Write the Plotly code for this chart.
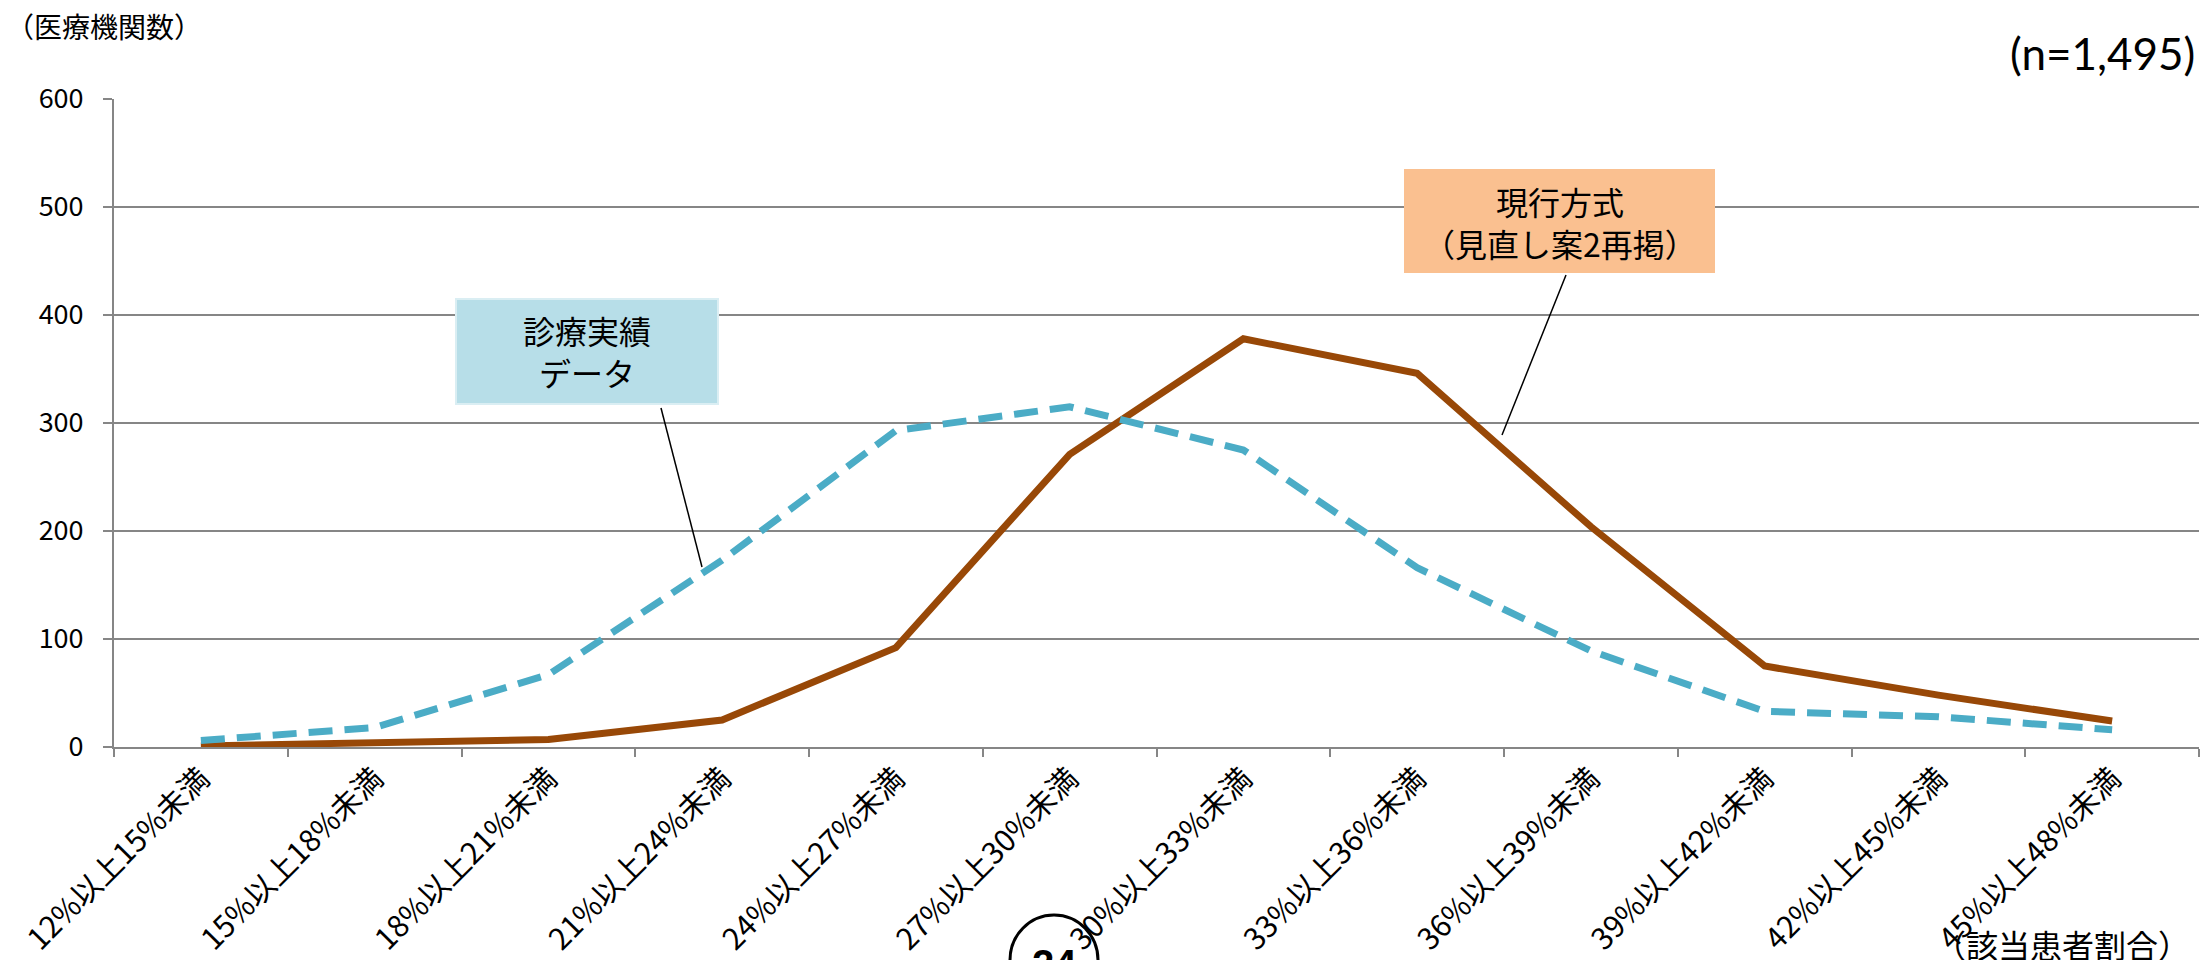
import plotly.graph_objects as go

# --- data -------------------------------------------------------------
categories = [
    "12%以上15%未満", "15%以上18%未満", "18%以上21%未満", "21%以上24%未満",
    "24%以上27%未満", "27%以上30%未満", "30%以上33%未満", "33%以上36%未満",
    "36%以上39%未満", "39%以上42%未満", "42%以上45%未満", "45%以上48%未満",
]
current_method = [1, 4, 7, 25, 92, 271, 378, 346, 204, 75, 48, 24]   # 現行方式
claims_data = [6, 18, 67, 173, 293, 315, 275, 166, 89, 33, 28, 16]   # 診療実績データ
y_ticks = [0, 100, 200, 300, 400, 500, 600]

# --- page geometry ----------------------------------------------------
W, H = 2201, 960
L, R, T, B = 114, 2, 99, 213
PW, PH = W - L - R, H - T - B

def px(x):
    return (x - L) / PW

def py(y):
    return (H - B - y) / PH

JP = "Noto Sans CJK JP"
GRID = "#868686"
BROWN = "#984807"
AQUA = "#4BACC6"

fig = go.Figure()
fig.add_trace(go.Scatter(
    x=categories, y=current_method, mode="lines", name="現行方式",
    line=dict(color=BROWN, width=7), showlegend=False,
))
fig.add_trace(go.Scatter(
    x=categories, y=claims_data, mode="lines", name="診療実績データ",
    line=dict(color=AQUA, width=7, dash="24px,12px"), showlegend=False,
))

shapes = [
    # callout boxes
    dict(type="rect", xref="paper", yref="paper",
         x0=px(456), x1=px(718), y0=py(404), y1=py(299),
         fillcolor="#B7DEE8", line=dict(color="#DAEEF3", width=2), layer="above"),
    dict(type="rect", xref="paper", yref="paper",
         x0=px(1404), x1=px(1715), y0=py(273), y1=py(169),
         fillcolor="#FAC090", line=dict(width=0), layer="above"),
    # leader lines
    dict(type="line", xref="paper", yref="paper",
         x0=px(661), y0=py(408), x1=px(702), y1=py(567),
         line=dict(color="black", width=1.5)),
    dict(type="line", xref="paper", yref="paper",
         x0=px(1566), y0=py(275), x1=px(1502), y1=py(435),
         line=dict(color="black", width=1.5)),
    # page number circle
    dict(type="circle", xref="paper", yref="paper",
         x0=px(1010), x1=px(1098), y0=py(1005), y1=py(915),
         line=dict(color="black", width=3)),
]

annotations = [
    dict(xref="paper", yref="paper", x=px(587), y=py(351),
         text="診療実績<br>データ", showarrow=False,
         font=dict(family=JP, size=32, color="black"),
         xanchor="center", yanchor="middle", align="center"),
    dict(xref="paper", yref="paper", x=px(1560), y=py(222),
         text="現行方式<br>（見直し案2再掲）", showarrow=False,
         font=dict(family=JP, size=32, color="black"),
         xanchor="center", yanchor="middle", align="center"),
    dict(xref="paper", yref="paper", x=px(4), y=py(26),
         text="（医療機関数）", showarrow=False,
         font=dict(family=JP, size=28, color="black"),
         xanchor="left", yanchor="middle"),
    dict(xref="paper", yref="paper", x=px(2197), y=py(53),
         text="(n=1,495)", showarrow=False,
         font=dict(family="Lato", size=44, color="black"),
         xanchor="right", yanchor="middle"),
    dict(xref="paper", yref="paper", x=px(2192), y=py(944),
         text="（該当患者割合）", showarrow=False,
         font=dict(family=JP, size=32, color="black"),
         xanchor="right", yanchor="middle"),
    dict(xref="paper", yref="paper", x=px(1054), y=py(964),
         text="<b>24</b>", showarrow=False,
         font=dict(family="Liberation Sans", size=40, color="black"),
         xanchor="center", yanchor="middle"),
]

fig.update_layout(
    width=W, height=H,
    margin=dict(l=L, r=R, t=T, b=B, pad=0),
    paper_bgcolor="white", plot_bgcolor="white",
    shapes=shapes, annotations=annotations,
    xaxis=dict(
        type="category", range=[-0.5, len(categories) - 0.5],
        tickson="boundaries", ticks="outside", ticklen=8,
        tickcolor=GRID, tickwidth=2,
        showline=True, linecolor=GRID, linewidth=2,
        showgrid=False, tickangle=-45,
        tickfont=dict(family=JP, size=30, color="black"),
    ),
    yaxis=dict(
        range=[0, 600], tickvals=y_ticks,
        showgrid=True, gridcolor=GRID, gridwidth=1.5,
        showline=True, linecolor=GRID, linewidth=2,
        ticks="outside", ticklen=9, tickcolor=GRID, tickwidth=1.5,
        ticklabelstandoff=14, zeroline=False,
        tickfont=dict(family=JP, size=27, color="black"),
    ),
)

fig.write_html("out.html")
